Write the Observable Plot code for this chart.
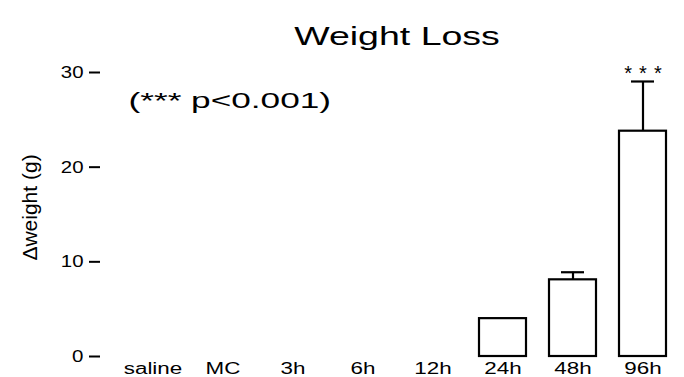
<!DOCTYPE html>
<html>
<head>
<meta charset="utf-8">
<script src="https://cdn.jsdelivr.net/npm/d3@7"></script>
<script src="https://cdn.jsdelivr.net/npm/@observablehq/plot@0.6"></script>
<style>
  html, body { margin: 0; padding: 0; background: #fff; }
  #chart svg { display: block; font-family: "Liberation Sans", Arial, Helvetica, sans-serif; color: #000; }
</style>
</head>
<body>
<div id="chart"></div>
<script>
// ---- data ----
const categories = ["saline", "MC", "3h", "6h", "12h", "24h", "48h", "96h"];
const means      = [0, 0, 0, 0, 0, 4.0, 8.1, 23.8];
const sems       = [0, 0, 0, 0, 0, 0, 0.8, 5.25];
const marks      = ["", "", "", "", "", "", "", "***"];
const yTicks     = [0, 10, 20, 30];
const titleText  = "Weight Loss";
const noteText   = "(*** p<0.001)";
const yLabelText = "\u0394weight (g)";

const data = categories.map((c, i) => ({cat: c, mean: means[i], sem: sems[i], top: means[i] + sems[i], sig: marks[i]}));
const withErr = data.filter(d => d.sem > 0);
const withSig = data.filter(d => d.sig);

const chart = Plot.plot({
  width: 684,
  height: 377,
  marginTop: 72,
  marginBottom: 21,
  marginLeft: 100,
  marginRight: 11,
  style: {fontFamily: '"Liberation Sans", Arial, Helvetica, sans-serif', color: "#000", background: "#fff"},
  x: {domain: categories, paddingInner: 0.33, paddingOuter: 0.24, align: 0.8, label: null},
  y: {domain: [0, 30], label: null},
  marks: [
    Plot.barY(data, {x: "cat", y: "mean", fill: "white", stroke: "black", strokeWidth: 2.2}),
    Plot.ruleX(withErr, {x: "cat", y1: "mean", y2: "top", stroke: "black", strokeWidth: 2.2}),
    Plot.tickY(withErr, {x: "cat", y: "top", stroke: "black", strokeWidth: 2.2, insetLeft: 12, insetRight: 12}),
    Plot.text(withSig, {x: "cat", y: "top", text: "sig", dy: -8, fontSize: 20}),
    Plot.axisY({ticks: yTicks, tickSize: 11, tickPadding: 6, fontSize: 17, line: true, strokeWidth: 2, label: null}),
    Plot.axisX({tickSize: 0, tickPadding: 6, fontSize: 16, line: true, strokeWidth: 2, label: null}),
    Plot.text([titleText], {frameAnchor: "top", dx: 10, dy: -45, fontSize: 25}),
    Plot.text([noteText], {frameAnchor: "top-left", textAnchor: "start", dx: 28, dy: 28, lineAnchor: "middle", fontSize: 22}),
    Plot.text([yLabelText], {frameAnchor: "left", dx: -70, dy: -7, rotate: -90, fontSize: 21, textAnchor: "middle"})
  ]
});

document.getElementById("chart").appendChild(chart);

// The reference lettering is horizontally wide; stretch text along its baseline.
const yTickStrings = yTicks.map(String);
d3.select(chart).selectAll("text").each(function () {
  const s = this.textContent;
  let k = 1, adjust = "spacingAndGlyphs";
  if (s === titleText) k = 1.5;
  else if (s === noteText) k = 1.6;
  else if (categories.includes(s)) k = 1.4;
  else if (yTickStrings.includes(s)) k = 1.2;
  else if (marks.includes(s) && s) { k = 1.6; adjust = "spacing"; }
  if (k === 1) return;
  const L = this.getComputedTextLength();
  this.setAttribute("textLength", (L * k).toFixed(1));
  this.setAttribute("lengthAdjust", adjust);
});
</script>
</body>
</html>
